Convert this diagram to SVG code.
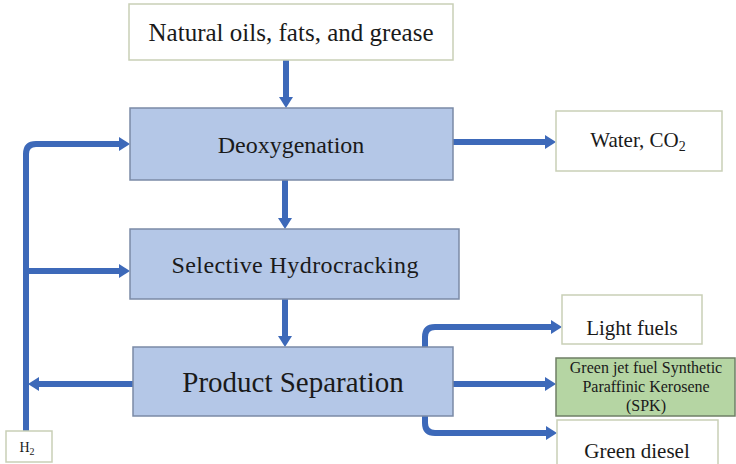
<svg xmlns="http://www.w3.org/2000/svg" width="736" height="464" viewBox="0 0 736 464">
<style>
text{font-family:'Liberation Serif','DejaVu Serif',serif;fill:#1a1a1a;text-anchor:middle}
.wb{fill:#ffffff;stroke:#c9cfb6;stroke-width:1.5}
.bb{fill:#b4c7e7;stroke:#7b8aa6;stroke-width:1.5}
.gb{fill:#b5d5a3;stroke:#6f7f66;stroke-width:1.5}
.c{fill:none;stroke:#3d69b9;stroke-width:6}
</style>
<defs>
<marker id="ah" markerUnits="userSpaceOnUse" markerWidth="12" markerHeight="14" refX="2" refY="7" orient="auto">
<path d="M0,0 L11,7 L0,14 Z" fill="#3d69b9"/>
</marker>
</defs>
<rect width="736" height="464" fill="#ffffff"/>
<g id="connectors">
<path class="c" d="M286,60 V99" marker-end="url(#ah)"/>
<path class="c" d="M285,180 V220" marker-end="url(#ah)"/>
<path class="c" d="M285,299 V338" marker-end="url(#ah)"/>
<path class="c" d="M453,142 H547" marker-end="url(#ah)"/>
<path class="c" d="M26,431 V154 Q26,144 36,144 H121" marker-end="url(#ah)"/>
<path class="c" d="M26,271 H121" marker-end="url(#ah)"/>
<path class="c" d="M133,384 H37" marker-end="url(#ah)"/>
<path class="c" d="M453,384 H547" marker-end="url(#ah)"/>
<path class="c" d="M425,347 V337 Q425,327 435,327 H553" marker-end="url(#ah)"/>
<path class="c" d="M425,416 V423 Q425,433 435,433 H548" marker-end="url(#ah)"/>
</g>
<g id="feed">
<rect class="wb" x="129" y="4" width="324" height="56"/>
<text x="291" y="41" font-size="25" textLength="285" lengthAdjust="spacing">Natural oils, fats, and grease</text>
</g>
<g id="deoxygenation">
<rect class="bb" x="130" y="108" width="323" height="72"/>
<text x="291" y="153" font-size="24">Deoxygenation</text>
</g>
<g id="hydrocracking">
<rect class="bb" x="130" y="229" width="329" height="70"/>
<text x="295" y="273" font-size="24" textLength="247" lengthAdjust="spacing">Selective Hydrocracking</text>
</g>
<g id="separation">
<rect class="bb" x="133" y="347" width="320" height="69"/>
<text x="293" y="392" font-size="29">Product Separation</text>
</g>
<g id="water">
<rect class="wb" x="556" y="111" width="166" height="60"/>
<text x="638" y="147" font-size="21">Water, CO<tspan font-size="14" dy="4">2</tspan></text>
</g>
<g id="light">
<rect class="wb" x="562" y="295" width="140" height="49"/>
<text x="632" y="335" font-size="21">Light fuels</text>
</g>
<g id="jet">
<rect class="gb" x="556" y="358" width="179" height="58"/>
<text x="646" y="373" font-size="16">Green jet fuel Synthetic</text>
<text x="646" y="392" font-size="16">Paraffinic Kerosene</text>
<text x="646" y="411" font-size="16">(SPK)</text>
</g>
<g id="diesel">
<rect class="wb" x="557" y="420" width="161" height="50"/>
<text x="637" y="458" font-size="21">Green diesel</text>
</g>
<g id="h2">
<rect class="wb" x="6" y="431" width="46" height="31"/>
<text x="27" y="452" font-size="14">H<tspan font-size="10" dy="3">2</tspan></text>
</g>
</svg>
